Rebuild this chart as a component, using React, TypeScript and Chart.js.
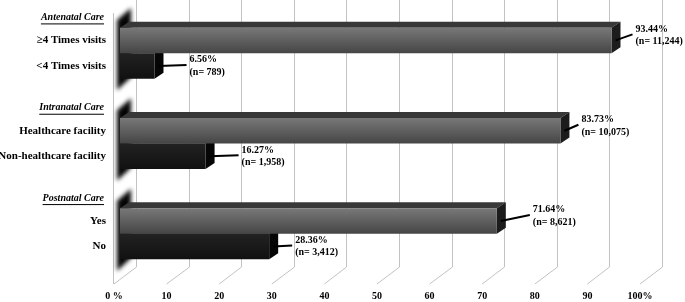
import React, { useEffect, useRef } from 'react';
import { Chart, registerables } from 'chart.js';
Chart.register(...registerables);

// ---- data ----
const GROUPS = ['Antenatal Care', 'Intranatal Care', 'Postnatal Care'];
const UPPER_LABELS = ['≥4 Times visits', 'Healthcare facility', 'Yes'];
const LOWER_LABELS = ['<4 Times visits', 'Non-healthcare facility', 'No'];
const UPPER_PCT = [93.44, 83.73, 71.64];
const UPPER_N = [11244, 10075, 8621];
const LOWER_PCT = [6.56, 16.27, 28.36];
const LOWER_N = [789, 1958, 3412];
const X_TICK_VALUES = [0, 10, 20, 30, 40, 50, 60, 70, 80, 90, 100];
const X_TICK_LABELS = ['0 %', '10', '20', '30', '40', '50', '60', '70', '80', '90', '100%'];

// ---- styling / layout constants ----
const DX = 9;
const DY = 6;
const CAT_PCT = 0.565;
const UPPER_GAP = [24, 21, 36];
const LOWER_GAP = [35, 36, 26];
const SERIF = '"Liberation Serif", "Times New Roman", serif';

function barHeight(chart: any) {
  const y = chart.scales.y;
  const slot = y.getPixelForValue(1) - y.getPixelForValue(0);
  return (slot * CAT_PCT) / 2;
}

function makeFill(c: any, upper: boolean) {
  const chart = c.chart;
  const fallback = upper ? '#5e5e5e' : '#1a1a1a';
  const y = chart.scales && chart.scales.y;
  if (!y || c.dataIndex === undefined) return fallback;
  const center = y.getPixelForValue(c.dataIndex);
  const h = barHeight(chart);
  if (!isFinite(center) || !isFinite(h) || h <= 0) return fallback;
  const g = upper
    ? chart.ctx.createLinearGradient(0, center - h, 0, center)
    : chart.ctx.createLinearGradient(0, center, 0, center + h);
  if (upper) {
    g.addColorStop(0, '#787878');
    g.addColorStop(0.5, '#5f5f5f');
    g.addColorStop(1, '#454545');
  } else {
    g.addColorStop(0, '#222222');
    g.addColorStop(1, '#111111');
  }
  return g;
}

const scenePlugin = {
  id: 'scene3d',
  beforeDatasetsDraw(chart: any) {
    const { ctx, chartArea, scales } = chart;
    const x = scales.x;
    const y = scales.y;
    ctx.save();
    const backBottom = chartArea.bottom - 12;
    const frontBottom = chartArea.bottom + 5;
    ctx.strokeStyle = '#c2c2c2';
    ctx.lineWidth = 1;
    X_TICK_VALUES.forEach((v) => {
      const px = x.getPixelForValue(v);
      const bx = Math.round(px + 16) + 0.5;
      ctx.beginPath();
      ctx.moveTo(bx, 0);
      ctx.lineTo(bx, backBottom);
      ctx.lineTo(px - 6, frontBottom);
      ctx.stroke();
    });
    const x0 = x.getPixelForValue(0);
    const lx = Math.round(x0 - 7) + 0.5;
    ctx.beginPath();
    ctx.moveTo(lx, chartArea.top + 5);
    ctx.lineTo(lx, frontBottom);
    ctx.stroke();

    // left wall shading per group
    const slot = y.getPixelForValue(1) - y.getPixelForValue(0);
    GROUPS.forEach((_, i) => {
      const c = y.getPixelForValue(i);
      const t = c - slot / 2;
      const b = c + slot / 2;
      ctx.save();
      ctx.filter = 'blur(2px)';
      ctx.fillStyle = '#050505';
      ctx.beginPath();
      ctx.moveTo(x0 - 3, t + 12);
      ctx.lineTo(x0 + 11, t);
      ctx.lineTo(x0 + 11, b - 21);
      ctx.lineTo(x0 - 3, b - 8);
      ctx.closePath();
      ctx.fill();
      ctx.restore();
    });

    // top & side faces of bars
    chart.data.datasets.forEach((_: any, di: number) => {
      const meta = chart.getDatasetMeta(di);
      meta.data.forEach((bar: any) => {
        const p = bar.getProps(['x', 'y', 'base', 'height'], true);
        const top = p.y - p.height / 2;
        const bot = p.y + p.height / 2;
        ctx.fillStyle = di === 0 ? '#383838' : '#151515';
        ctx.beginPath();
        ctx.moveTo(p.base, top);
        ctx.lineTo(p.base + DX, top - DY);
        ctx.lineTo(p.x + DX, top - DY);
        ctx.lineTo(p.x, top);
        ctx.closePath();
        ctx.fill();
        ctx.fillStyle = di === 0 ? '#1c1c1c' : '#060606';
        ctx.beginPath();
        ctx.moveTo(p.x, top);
        ctx.lineTo(p.x + DX, top - DY);
        ctx.lineTo(p.x + DX, bot - DY);
        ctx.lineTo(p.x, bot);
        ctx.closePath();
        ctx.fill();
      });
    });
    ctx.restore();
  },
  afterDatasetsDraw(chart: any) {
    const { ctx, scales } = chart;
    const x = scales.x;
    const x0 = x.getPixelForValue(0);
    const upper = chart.getDatasetMeta(0).data;
    const lower = chart.getDatasetMeta(1).data;
    ctx.save();
    ctx.fillStyle = '#000';
    ctx.textBaseline = 'middle';

    const labelRight = x0 - 14;
    GROUPS.forEach((g, i) => {
      const ub = upper[i];
      const lb = lower[i];
      ctx.textAlign = 'right';
      ctx.font = 'bold 11px ' + SERIF;
      ctx.fillText(UPPER_LABELS[i], labelRight, ub.y);
      ctx.fillText(LOWER_LABELS[i], labelRight, lb.y);
      ctx.font = 'italic bold 10px ' + SERIF;
      const hy = ub.y - 23;
      const hr = labelRight - 2;
      ctx.fillText(g, hr, hy);
      const w = ctx.measureText(g).width;
      ctx.fillRect(hr - w, hy + 6, w, 1);
    });

    const drawValue = (bar: any, pct: number, n: number, gap: number, dy: number) => {
      const tx = bar.x + gap;
      const tc = bar.y + dy;
      ctx.strokeStyle = '#000';
      ctx.lineWidth = 2;
      ctx.beginPath();
      ctx.moveTo(bar.x + 4, bar.y);
      ctx.lineTo(tx - 3, tc - 1);
      ctx.stroke();
      ctx.textAlign = 'left';
      ctx.font = 'bold 10px ' + SERIF;
      ctx.fillText(pct.toFixed(2) + '%', tx, tc - 6.3);
      ctx.fillText('(n= ' + n.toLocaleString('en-US') + ')', tx, tc + 6.3);
    };
    GROUPS.forEach((_, i) => {
      drawValue(upper[i], UPPER_PCT[i], UPPER_N[i], UPPER_GAP[i], -5);
      drawValue(lower[i], LOWER_PCT[i], LOWER_N[i], LOWER_GAP[i], 0);
    });
    ctx.restore();
  },
};

export default function App() {
  const ref = useRef<HTMLCanvasElement | null>(null);
  useEffect(() => {
    document.body.style.margin = '0';
    const canvas = ref.current;
    if (!canvas) return;
    const chart = new Chart(canvas, {
      type: 'bar',
      data: {
        labels: GROUPS,
        datasets: [
          {
            label: 'upper',
            data: UPPER_PCT,
            backgroundColor: ((c: any) => makeFill(c, true)) as any,
            borderWidth: 0,
            categoryPercentage: CAT_PCT,
            barPercentage: 1,
          },
          {
            label: 'lower',
            data: LOWER_PCT,
            backgroundColor: ((c: any) => makeFill(c, false)) as any,
            borderWidth: 0,
            categoryPercentage: CAT_PCT,
            barPercentage: 1,
          },
        ],
      },
      options: {
        indexAxis: 'y',
        animation: false,
        responsive: true,
        maintainAspectRatio: false,
        layout: { padding: { left: 120, right: 39, top: 8, bottom: 0 } },
        plugins: { legend: { display: false }, tooltip: { enabled: false } },
        scales: {
          x: {
            type: 'linear',
            min: 0,
            max: 100,
            grid: { display: false, drawTicks: false },
            border: { display: false },
            afterBuildTicks: (axis: any) => {
              axis.ticks = X_TICK_VALUES.map((v) => ({ value: v }));
            },
            afterFit: (axis: any) => {
              axis.height = 23;
            },
            ticks: {
              padding: 11,
              labelOffset: -6,
              maxRotation: 0,
              autoSkip: false,
              color: '#000',
              font: { family: SERIF, weight: 'bold', size: 10 },
              callback: (v: any) => {
                const idx = X_TICK_VALUES.indexOf(Number(v));
                return idx >= 0 ? X_TICK_LABELS[idx] : '';
              },
            },
          },
          y: {
            type: 'category',
            display: false,
          },
        },
      },
      plugins: [scenePlugin],
    } as any);
    return () => chart.destroy();
  }, []);
  return (
    <div style={{ width: 685, height: 302, position: 'relative' }}>
      <canvas ref={ref} />
    </div>
  );
}
